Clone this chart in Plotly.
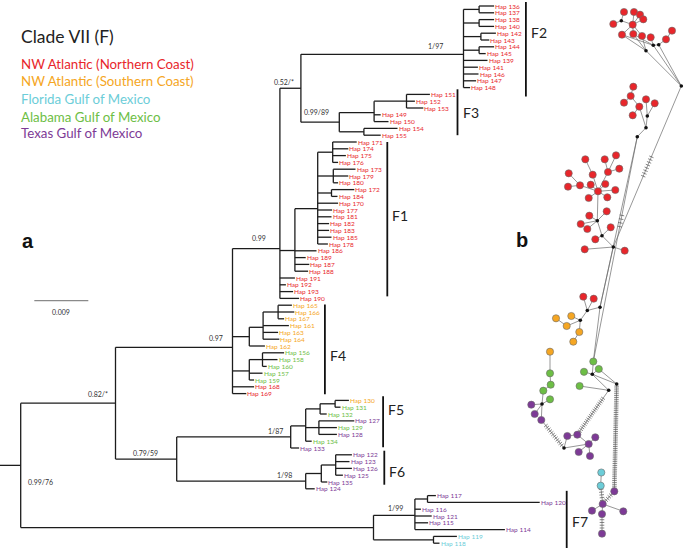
import numpy as np
import plotly.graph_objects as go

# ------------------------------------------------------------------ data
REGION_CODES = ["N", "S", "F", "A", "T"]
REGION_NAMES = ["NW Atlantic (Northern Coast)", "NW Atlantic (Southern Coast)",
                "Florida Gulf of Mexico", "Alabama Gulf of Mexico", "Texas Gulf of Mexico"]
REGION_COLORS = {"N": "#E8262B", "S": "#F5A623", "F": "#6CCDD8", "A": "#6DBE45",
                 "T": "#7D3A96", "M": "#111111"}

# tip order (top to bottom)
hap_ids = [136, 137, 138, 140, 142, 143, 144, 145, 139, 141, 146, 147, 148,
           151, 152, 153, 149, 150, 154, 155,
           171, 174, 175, 176, 173, 179, 180, 172, 184, 170, 177, 181, 182, 183, 185, 178,
           186, 189, 187, 188, 191, 192, 193, 190,
           165, 166, 167, 161, 163, 164, 162, 156, 158, 160, 157, 159, 168, 169,
           130, 131, 132, 127, 129, 128, 134, 133,
           122, 123, 126, 125, 135, 124,
           117, 120, 116, 121, 115, 114, 119, 118]
hap_region = (["N"] * 13 + ["N"] * 7 + ["N"] * 24 +
              ["S"] * 7 + ["A"] * 5 + ["N"] * 2 +
              ["S", "A", "A", "T", "A", "T", "A", "T"] +
              ["T"] * 6 +
              ["T"] * 6 + ["F"] * 2)
# root-to-tip depth, 1e-3 substitutions/site
hap_depth = [78.9, 78.9, 78.9, 78.9, 79.2, 78.1, 78.9, 77.5, 77.8, 76.2, 76.3, 75.9, 74.9,
             68.2, 65.7, 67.1, 60.0, 61.3, 62.8, 60.0,
             56.0, 54.6, 54.2, 52.9, 55.8, 54.6, 52.9, 55.6, 52.8, 52.9, 51.9, 51.8, 51.4, 51.4,
             51.8, 51.2, 49.3, 47.5, 48.1, 47.9, 45.7, 44.2, 45.4, 46.4,
             45.2, 45.6, 43.9, 44.7, 42.9, 43.1, 40.7, 43.9, 42.8, 41.0, 40.3, 38.9, 38.9, 37.6,
             54.7, 53.3, 51.0, 55.6, 52.7, 52.7, 48.5, 46.4,
             55.2, 54.8, 55.2, 53.7, 51.1, 49.0,
             69.2, 86.5, 66.7, 68.5, 67.9, 80.7, 72.7, 69.8]

# topology: [node depth (1e-3 subs/site), support, children]; ints are haplotypes
TREE = [0.0, "0.99/76", [
    [15.8, "0.82/*", [
        [35.3, "0.97", [
            [43.2, "0.99", [
                [46.7, "0.52/*", [
                    [73.8, "1/97", [[76.4, "", [136, 137]], [76.4, "", [138, 140]],
                                    [76.7, "", [142, 143]], [76.4, "", [144, 145]],
                                    139, 141, 146, 147, 148]],
                    [53.1, "0.99/89", [[58.9, "", [[64.3, "", [151, 152, 153]], 149, 150]],
                                       [57.2, "", [154, 155]]]],
                ]],
                [45.7, "", [
                    [49.5, "", [[52.0, "", [171, 174, 175, 176]], [52.1, "", [173, 179, 180]],
                                [51.8, "", [172, 184]], 170, 177, 181, 182, 183, 185, 178]],
                    186, 189, 187, 188]],
                191, 192, 193, 190]],
            [38.1, "", [[40.4, "", [[42.9, "", [165, 166, 167]], 161, 163, 164]], 162]],
            [38.1, "", [[40.3, "", [156, 158, 160]], 157, 159]],
            168, 169]],
        [26.0, "0.79/59", [
            [45.0, "1/87", [[47.5, "", [[49.9, "", [[52.4, "", [130, 131]], 132]],
                                        [49.7, "", [127, 129, 128]], 134]], 133]],
            [47.5, "1/98", [[50.1, "", [[52.5, "", [122, 123, 126, 125]], 135]], 124]]]]]],
    [58.8, "", [[65.7, "1/99", [[67.8, "", [117, 120]], 116, 121, 115, 114]],
                [68.8, "", [119, 118]]]]]]

CLADES = ["F2", "F3", "F1", "F4", "F5", "F6", "F7"]
clade_first = [136, 151, 171, 165, 130, 122, 117]
clade_last = [148, 155, 190, 169, 133, 124, 118]

SCALE_BAR_VALUE = 9.0  # 0.009 subs/site
SCALE_BAR_LABEL = "0.009"

# haplotype network (panel b)
net_id = ["r1", "r2", "r3", "r4", "r5", "r6", "r7", "r8", "r9", "r10", "r11", "r12",
          "b1", "b2", "b3", "b4", "b5",
          "s1", "s2", "s3", "s4", "s5", "s6", "s7", "c1", "c2", "c3",
          "t1", "t2", "t3", "t4", "t5", "t6", "t7", "t8", "t9", "t10", "t11", "t12",
          "t13", "t14", "t15", "t16", "t17", "t18", "t19", "t20", "t21", "t22", "t23",
          "d1", "d2", "d3",
          "u1", "u2", "e1", "e2", "e3", "o1", "o2", "o3", "o4", "o5",
          "g1", "g2", "g3", "g4", "e4", "e5", "e6",
          "o6", "g5", "g6", "g7", "g8", "f1", "p1", "p2", "p3",
          "h1", "q1", "q2", "q3", "q4", "q5", "q6",
          "v1", "v2", "v3", "v4", "v5", "v6", "w1", "w2"]
net_x = [624, 634, 640, 643.3, 613.3, 632.7, 622, 633.3, 642, 650.7, 672, 666,
         621.3, 653.3, 658.7, 646, 681.3,
         633.3, 630.7, 624, 646, 654.7, 639.3, 632.7, 647.3, 646, 637.3,
         585.3, 604.7, 616, 568.7, 592.7, 608, 619.3, 568, 580, 590.7, 605.3, 598,
         615.3, 588.7, 607.3, 606.7, 589.3, 580.7, 587.3, 610.7, 595.3, 584.7, 624.7,
         597.3, 602, 613.3,
         583.3, 593.7, 587.3, 600, 580.3, 556, 571.3, 566.7, 579.3, 573.3,
         593.3, 584, 598.8, 579.6, 592.3, 608.7, 616.7,
         550, 550, 550.7, 543.3, 550, 542, 531.3, 534.7, 541.3,
         564, 567.3, 577.3, 595.3, 588.7, 578.7, 590,
         614.3, 602.7, 592, 623.3, 602, 602, 601.3, 600.7]
net_y = [12, 12, 14.7, 19.3, 24, 24.7, 34.7, 34, 36, 37.3, 30.7, 39.3,
         20.7, 45.3, 44.7, 50.7, 86,
         86.7, 96, 102.7, 99.3, 103.3, 106.7, 115.3, 116, 127.7, 136.7,
         159.3, 159.3, 155.3, 173.3, 174.7, 172, 168.7, 186.7, 185.3, 184.7, 184, 191.3,
         190, 198, 197.3, 211.3, 215.7, 224, 229, 227.3, 239.3, 249.3, 250.7,
         220.7, 235.7, 247,
         296.7, 298.7, 310.5, 307.2, 320.3, 318.3, 316, 326, 332, 341.7,
         361.5, 371.8, 369, 386, 374.3, 390.3, 384,
         351.7, 373.3, 384.7, 390.7, 399.3, 404, 404.7, 414, 420,
         448, 436, 434.7, 437.3, 444, 452, 456,
         491.3, 504, 510.7, 511.3, 514, 533.7, 472.5, 485.7]
net_region = (["N"] * 12 + ["M"] * 5 +
              ["N"] * 7 + ["M"] * 3 +
              ["N"] * 23 + ["M"] * 3 +
              ["N", "N", "M", "M", "M", "S", "S", "S", "S", "S",
               "A", "A", "A", "A", "M", "M", "M"] +
              ["S", "A", "A", "A", "A", "M", "T", "T", "T"] +
              ["M", "T", "T", "T", "T", "T", "T"] +
              ["T"] * 6 + ["F"] * 2)

net_edges = [("r1", "b1"), ("r5", "b1"), ("b1", "r6"), ("r6", "r2"), ("r6", "r3"), ("r6", "r4"),
             ("r6", "r7"), ("r6", "r8"), ("r6", "r9"), ("r7", "b4"), ("r7", "b2"), ("r8", "b4"),
             ("r8", "b2"), ("r9", "b4"), ("r10", "b2"), ("b2", "b3"), ("b3", "r12"),
             ("r12", "r11"), ("b2", "b5"), ("b3", "b5"), ("b4", "b5"),
             ("s1", "s2"), ("s2", "s3"), ("s2", "s6"), ("s6", "s7"), ("s6", "c2"), ("s4", "c1"),
             ("s5", "c1"), ("c1", "c2"), ("c2", "c3"),
             ("b5", "d3"), ("c3", "e2"), ("c3", "g1"),
             ("t1", "t5"), ("t5", "t12"), ("t2", "t6"), ("t3", "t6"), ("t7", "t6"), ("t6", "t12"),
             ("t4", "t9"), ("t8", "t9"), ("t9", "t12"), ("t10", "t12"), ("t11", "t12"),
             ("t13", "t12"), ("t14", "t12"), ("t15", "t12"), ("t12", "d1"), ("d1", "t16"),
             ("d1", "t17"), ("d1", "t18"), ("d1", "t19"), ("d1", "d2"), ("t20", "d2"),
             ("t21", "d2"), ("d2", "d3"), ("t22", "d3"), ("d3", "t23"), ("d3", "e2"),
             ("u1", "e1"), ("u2", "e1"), ("e1", "e2"), ("e1", "e3"), ("e3", "o2"), ("e3", "o3"),
             ("e3", "o4"), ("o4", "o5"), ("o1", "o3"), ("e2", "g1"), ("g1", "e4"), ("e4", "g2"),
             ("e4", "g3"), ("e4", "e5"), ("e4", "e6"), ("g3", "e6"), ("g4", "e5"),
             ("e6", "v1"), ("e5", "q2"),
             ("o6", "g5"), ("g5", "g6"), ("g6", "g7"), ("g7", "f1"), ("g8", "f1"), ("f1", "p1"),
             ("f1", "p2"), ("f1", "p3"), ("p3", "h1"),
             ("h1", "q1"), ("q1", "q2"), ("q2", "q4"), ("q4", "q3"), ("q4", "q5"), ("q4", "q6"),
             ("h1", "q4"),
             ("v1", "v2"), ("v2", "v3"), ("v2", "v4"), ("v2", "v5"), ("v5", "v6"), ("v2", "w2"),
             ("w2", "w1")]
# edges carrying many mutation steps: (a, b, number of steps, start fraction, end fraction)
mutation_steps = [("b5", "d3", 8, 0.44, 0.56), ("c3", "g1", 4, 0.35, 0.40),
                  ("e6", "v1", 55, 0.02, 0.97), ("e5", "q2", 20, 0.18, 0.92),
                  ("p3", "h1", 12, 0.20, 0.90), ("v1", "v2", 4, 0.30, 0.70),
                  ("v5", "v6", 6, 0.15, 0.85), ("v2", "w2", 5, 0.20, 0.80)]

# ------------------------------------------------------------------ layout constants
W, H = 685, 548
PX_PER_UNIT = 6.0          # px per 0.001 subs/site
ROOT_PX = 20.7
ROW_PX = 6.8
ROW0_PX = 6.0
X_RANGE = [-ROOT_PX / PX_PER_UNIT, (W - ROOT_PX) / PX_PER_UNIT]
Y_RANGE = [(H - ROW0_PX) / ROW_PX, -ROW0_PX / ROW_PX]
TIP_FONT = "Lato, 'Liberation Sans', Arial, sans-serif"

fig = go.Figure()
annotations = []
shapes = []

# ------------------------------------------------------------------ tree
seg_x, seg_y = [], []
supports = []


def walk(node):
    if isinstance(node, int):
        i = hap_ids.index(node)
        return float(i), hap_depth[i]
    depth, sup, kids = node
    res = [walk(k) for k in kids]
    ys = [r[0] for r in res]
    y = float(np.mean(ys))
    seg_x.extend([depth, depth, None])
    seg_y.extend([min(ys), max(ys), None])
    for cy, cd in res:
        seg_x.extend([depth, cd, None])
        seg_y.extend([cy, cy, None])
    if sup:
        supports.append((sup, depth, y))
    return y, depth


root_y, _ = walk(TREE)
seg_x.extend([X_RANGE[0], 0.0, None])
seg_y.extend([root_y, root_y, None])

fig.add_trace(go.Scatter(x=seg_x, y=seg_y, mode="lines",
                         line=dict(color="#1c1c1c", width=1.3),
                         hoverinfo="skip", showlegend=False))

# tip labels
for i, hid in enumerate(hap_ids):
    annotations.append(dict(x=hap_depth[i], y=i, xref="x", yref="y", text=f"Hap {hid}",
                            showarrow=False, xanchor="left", yanchor="middle", xshift=-1,
                            font=dict(family=TIP_FONT, size=6.5,
                                      color=REGION_COLORS[hap_region[i]])))

# support values (offsets in px relative to node)
support_style = {"0.82/*": (-6, 9), "0.97": (-8, 9), "0.99": (-12, 11), "0.52/*": (-5, 6),
                 "1/97": (-19, 8), "0.99/89": (-8, 10), "0.79/59": (-17, 6), "1/87": (-6, 6),
                 "1/98": (-12, 6), "1/99": (-10, 7)}
for sup, depth, y in supports:
    if sup == "0.99/76":
        annotations.append(dict(x=depth, y=y, xref="x", yref="y", text=sup, showarrow=False,
                                xanchor="left", yanchor="middle", xshift=5, yshift=-17,
                                font=dict(family=TIP_FONT, size=7, color="#333333")))
        continue
    dx, dy = support_style[sup]
    annotations.append(dict(x=depth, y=y, xref="x", yref="y", text=sup, showarrow=False,
                            xanchor="right", yanchor="middle", xshift=dx, yshift=dy,
                            font=dict(family=TIP_FONT, size=7, color="#333333")))

# clade bars
bar_x_units = {"F2": 84.2, "F3": 72.8, "F1": 61.1, "F4": 50.7, "F5": 60.4, "F6": 60.6, "F7": 91.0}
bar_pad = {"F2": (0.6, 1.3), "F3": (0.75, 0.0), "F1": (0.0, -0.3), "F4": (0.1, 0.1),
           "F5": (0.6, -0.1), "F6": (0.6, -0.6), "F7": (0.7, 2.0)}
label_row = {"F2": 3.9, "F3": 15.7, "F1": 30.8, "F4": 51.4, "F5": 59.3, "F6": 68.5, "F7": 75.8}
for name, a, b in zip(CLADES, clade_first, clade_last):
    r0, r1 = hap_ids.index(a), hap_ids.index(b)
    pt, pb = bar_pad[name]
    shapes.append(dict(type="line", xref="x", yref="y", x0=bar_x_units[name],
                       x1=bar_x_units[name], y0=r0 - pt, y1=r1 + pb,
                       line=dict(color="#111111", width=1.8)))
    annotations.append(dict(x=bar_x_units[name], y=label_row[name], xref="x", yref="y",
                            text=name, showarrow=False, xanchor="left", yanchor="middle",
                            xshift=3, font=dict(family=TIP_FONT, size=14, color="#222222")))

# scale bar
shapes.append(dict(type="line", xref="x", yref="y2", x0=2.27, x1=2.27 + SCALE_BAR_VALUE,
                   y0=300.7, y1=300.7, line=dict(color="#8a8a8a", width=1.2)))
annotations.append(dict(x=2.27 + SCALE_BAR_VALUE / 2, y=311.7, xref="x", yref="y2",
                        text=SCALE_BAR_LABEL, showarrow=False, xanchor="center",
                        yanchor="middle", font=dict(family=TIP_FONT, size=7, color="#333333")))

# ------------------------------------------------------------------ network
pos = {n: (x, y) for n, x, y in zip(net_id, net_x, net_y)}
ex, ey = [], []
for a, b in net_edges:
    ex.extend([pos[a][0], pos[b][0], None])
    ey.extend([pos[a][1], pos[b][1], None])
fig.add_trace(go.Scatter(x=ex, y=ey, mode="lines", xaxis="x2", yaxis="y2",
                         line=dict(color="#6a6a6a", width=0.7),
                         hoverinfo="skip", showlegend=False))
tx, ty = [], []
for a, b, n, f0, f1 in mutation_steps:
    (x0, y0), (x1, y1) = pos[a], pos[b]
    L = np.hypot(x1 - x0, y1 - y0)
    ux, uy = (x1 - x0) / L, (y1 - y0) / L
    px, py = -uy, ux
    for f in np.linspace(f0, f1, n):
        cx, cy = x0 + (x1 - x0) * f, y0 + (y1 - y0) * f
        tx.extend([cx - 2.3 * px, cx + 2.3 * px, None])
        ty.extend([cy - 2.3 * py, cy + 2.3 * py, None])
fig.add_trace(go.Scatter(x=tx, y=ty, mode="lines", xaxis="x2", yaxis="y2",
                         line=dict(color="#555555", width=0.7),
                         hoverinfo="skip", showlegend=False))

hap_nodes = [k for k, r in enumerate(net_region) if r != "M"]
med_nodes = [k for k, r in enumerate(net_region) if r == "M"]
fig.add_trace(go.Scatter(x=[net_x[k] for k in hap_nodes], y=[net_y[k] for k in hap_nodes],
                         mode="markers", xaxis="x2", yaxis="y2",
                         marker=dict(size=7.2, color=[REGION_COLORS[net_region[k]] for k in hap_nodes],
                                     line=dict(color="#6b6b6b", width=0.6)),
                         hoverinfo="skip", showlegend=False))
fig.add_trace(go.Scatter(x=[net_x[k] for k in med_nodes], y=[net_y[k] for k in med_nodes],
                         mode="markers", xaxis="x2", yaxis="y2",
                         marker=dict(size=3.6, color="#111111"),
                         hoverinfo="skip", showlegend=False))

# ------------------------------------------------------------------ legend & panel letters
annotations.append(dict(x=19.3, y=36, xref="x2", yref="y2", text="Clade VII (F)",
                        showarrow=False, xanchor="left", yanchor="middle",
                        font=dict(family=TIP_FONT, size=17.5, color="#222222")))
for k, (code, name) in enumerate(zip(REGION_CODES, REGION_NAMES)):
    annotations.append(dict(x=19.3, y=[64.3, 81, 99.3, 117.3, 133.3][k], xref="x2", yref="y2",
                            text=name, showarrow=False, xanchor="left", yanchor="middle",
                            font=dict(family=TIP_FONT, size=13.3, color=REGION_COLORS[code])))
annotations.append(dict(x=28, y=241, xref="x2", yref="y2", text="<b>a</b>", showarrow=False,
                        xanchor="center", yanchor="middle",
                        font=dict(family="Liberation Sans, Arial", size=20, color="#111111")))
annotations.append(dict(x=522, y=240, xref="x2", yref="y2", text="<b>b</b>", showarrow=False,
                        xanchor="center", yanchor="middle",
                        font=dict(family="Liberation Sans, Arial", size=20, color="#111111")))

fig.update_layout(
    width=W, height=H, margin=dict(l=0, r=0, t=0, b=0, pad=0),
    paper_bgcolor="white", plot_bgcolor="white", showlegend=False,
    xaxis=dict(range=X_RANGE, visible=False, fixedrange=True),
    yaxis=dict(range=Y_RANGE, visible=False, fixedrange=True),
    xaxis2=dict(range=[0, W], visible=False, overlaying="x", anchor="y2", fixedrange=True),
    yaxis2=dict(range=[H, 0], visible=False, overlaying="y", anchor="x2", fixedrange=True),
    annotations=annotations, shapes=shapes,
)
fig.write_html("out.html", config={"displayModeBar": False},
               post_script="document.body.style.margin='0px';document.body.style.padding='0px';"
                           "document.documentElement.style.overflow='hidden';")
